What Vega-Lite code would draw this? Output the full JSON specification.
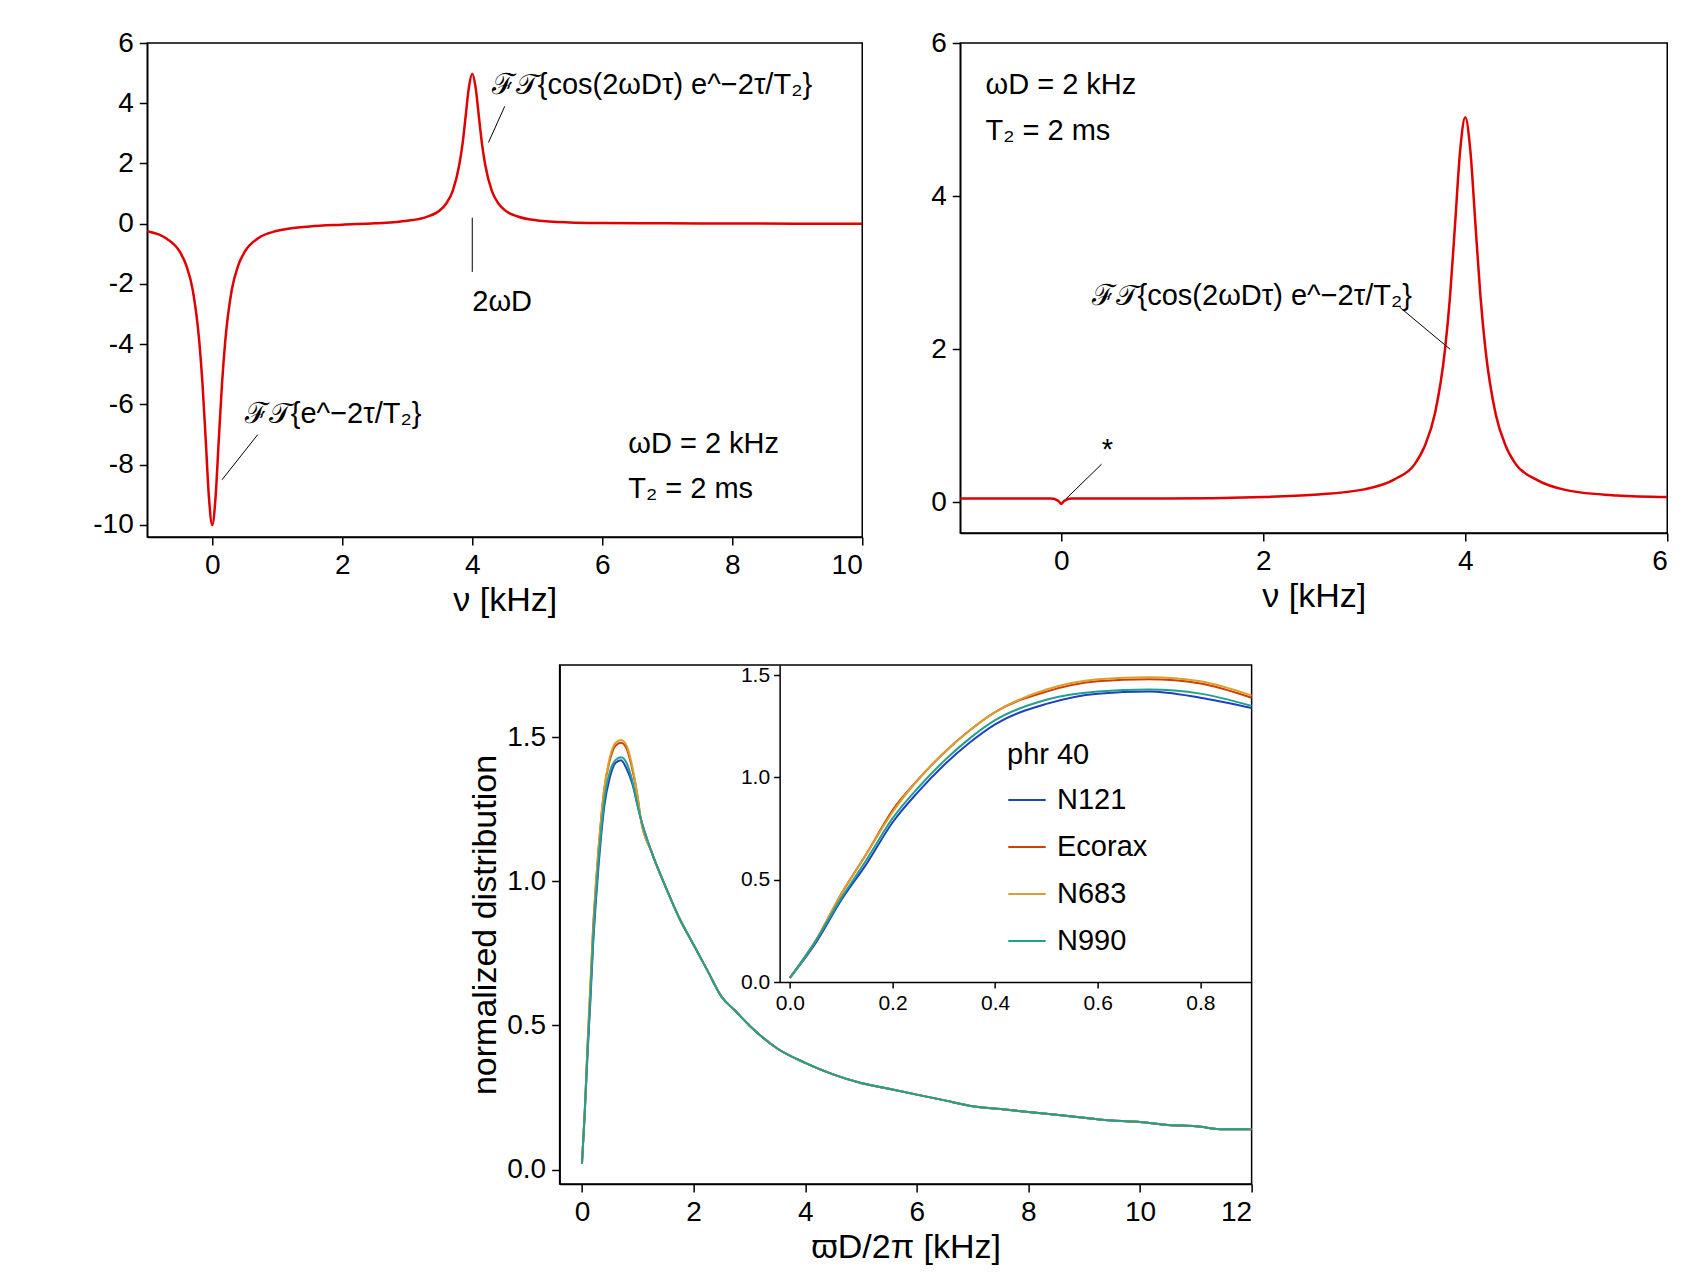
{
"$schema":"https://vega.github.io/schema/vega-lite/v6.json",
"padding":{"left":92,"top":28,"right":5,"bottom":5},
"background":"white",
"config":{"view":{"stroke":"black","strokeWidth":1.5},
"axis":{"grid":false,"labelFont":"Liberation Sans","titleFont":"Liberation Sans","labelFontSize":28,"titleFontSize":34,"titleFontWeight":"normal","labelColor":"black","titleColor":"black","domainColor":"black","tickColor":"black","domainWidth":1.5,"tickWidth":1.5,"tickSize":8,"labelPadding":6,"titlePadding":4,"labelExpr":"replace(datum.label,'−','-')"},
"text":{"font":"Liberation Sans","fontSize":29,"color":"black"},
"legend":{"labelFont":"Liberation Sans","titleFont":"Liberation Sans"}},
"vconcat":[
{"hconcat":[
{"width":715,"height":494,
"layer":[
{"data":{"values":[{"x":-1,"y":-0.25},{"x":-0.7,"y":-0.5},{"x":-0.5,"y":-0.93},{"x":-0.4,"y":-1.38},{"x":-0.3,"y":-2.2},{"x":-0.2,"y":-3.9},{"x":-0.15,"y":-5.32},{"x":-0.1,"y":-7.19},{"x":-0.05,"y":-9.11},{"x":0,"y":-10},{"x":0.05,"y":-9.11},{"x":0.1,"y":-7.19},{"x":0.15,"y":-5.32},{"x":0.2,"y":-3.9},{"x":0.3,"y":-2.2},{"x":0.4,"y":-1.38},{"x":0.5,"y":-0.93},{"x":0.7,"y":-0.49},{"x":1,"y":-0.235},{"x":1.5,"y":-0.09},{"x":2,"y":-0.03},{"x":2.5,"y":0.015},{"x":3,"y":0.097},{"x":3.3,"y":0.23},{"x":3.5,"y":0.44},{"x":3.6,"y":0.67},{"x":3.7,"y":1.09},{"x":3.8,"y":1.95},{"x":3.85,"y":2.64},{"x":3.9,"y":3.6},{"x":3.95,"y":4.55},{"x":4,"y":4.98},{"x":4.05,"y":4.55},{"x":4.1,"y":3.6},{"x":4.15,"y":2.65},{"x":4.2,"y":1.95},{"x":4.3,"y":1.1},{"x":4.4,"y":0.68},{"x":4.5,"y":0.45},{"x":4.7,"y":0.24},{"x":5,"y":0.11},{"x":5.5,"y":0.045},{"x":6,"y":0.025},{"x":7,"y":0.012},{"x":8,"y":0.007},{"x":10,"y":0.0}]},
"mark":{"type":"line","color":"#e00000","strokeWidth":2.5,"interpolate":"monotone","clip":true},
"encoding":{"x":{"field":"x","type":"quantitative","scale":{"domain":[-1,10],"nice":false},"axis":{"values":[0,2,4,6,8,10],"format":"d","title":"ν [kHz]"}},
"y":{"field":"y","type":"quantitative","scale":{"domain":[-10.4,6],"nice":false},"axis":{"values":[-10,-8,-6,-4,-2,0,2,4,6],"format":"d","title":null}}}},
{"data":{"values":[{"x":4.5,"y":3.9,"x2":4.25,"y2":2.7},{"x":4,"y":-1.6,"x2":4,"y2":0.2},{"x":0.7,"y":-7.0,"x2":0.15,"y2":-8.5}]},
"mark":{"type":"rule","color":"black","strokeWidth":1},
"encoding":{"x":{"field":"x","type":"quantitative"},"y":{"field":"y","type":"quantitative"},"x2":{"field":"x2"},"y2":{"field":"y2"}}},
{"data":{"values":[{"x":4.3,"y":4.6,"t":"ℱ𝒯{cos(2ωDτ) e^−2τ/T₂}","a":"left"},{"x":4,"y":-2.6,"t":"2ωD","a":"center"},{"x":0.5,"y":-6.3,"t":"ℱ𝒯{e^−2τ/T₂}","a":"left"},{"x":6.4,"y":-7.3,"t":"ωD  = 2 kHz","a":"left"},{"x":6.4,"y":-8.8,"t":"T₂  = 2 ms","a":"left"}]},
"mark":{"type":"text","align":"left"},
"encoding":{"x":{"field":"x","type":"quantitative"},"y":{"field":"y","type":"quantitative"},"text":{"field":"t"},"align":{"field":"a","type":"nominal","scale":null}}}
]},
{"width":707,"height":490,
"layer":[
{"data":{"values":[{"x":-1,"y":0.05},{"x":-0.1,"y":0.05},{"x":-0.03,"y":0.02},{"x":0,"y":-0.02},{"x":0.03,"y":0.02},{"x":0.1,"y":0.05},{"x":1,"y":0.05},{"x":2,"y":0.07},{"x":2.5,"y":0.1},{"x":3,"y":0.17},{"x":3.3,"y":0.3},{"x":3.5,"y":0.5},{"x":3.6,"y":0.74},{"x":3.7,"y":1.16},{"x":3.8,"y":2.0},{"x":3.85,"y":2.7},{"x":3.9,"y":3.65},{"x":3.95,"y":4.6},{"x":4,"y":5.03},{"x":4.05,"y":4.6},{"x":4.1,"y":3.65},{"x":4.15,"y":2.7},{"x":4.2,"y":2.0},{"x":4.3,"y":1.16},{"x":4.4,"y":0.74},{"x":4.5,"y":0.5},{"x":4.7,"y":0.3},{"x":5,"y":0.16},{"x":5.5,"y":0.09},{"x":6,"y":0.07}]},
"mark":{"type":"line","color":"#e00000","strokeWidth":2.5,"interpolate":"monotone","clip":true},
"encoding":{"x":{"field":"x","type":"quantitative","scale":{"domain":[-1,6],"nice":false},"axis":{"values":[0,2,4,6],"format":"d","title":"ν [kHz]"}},
"y":{"field":"y","type":"quantitative","scale":{"domain":[-0.4,6],"nice":false},"axis":{"values":[0,2,4,6],"format":"d","title":null}}}},
{"data":{"values":[{"x":3.35,"y":2.55,"x2":3.85,"y2":2.0},{"x":0.4,"y":0.5,"x2":0.05,"y2":0.05}]},
"mark":{"type":"rule","color":"black","strokeWidth":1},
"encoding":{"x":{"field":"x","type":"quantitative"},"y":{"field":"y","type":"quantitative"},"x2":{"field":"x2"},"y2":{"field":"y2"}}},
{"data":{"values":[{"x":-0.75,"y":5.45,"t":"ωD  = 2 kHz"},{"x":-0.75,"y":4.85,"t":"T₂  = 2 ms"},{"x":0.3,"y":2.7,"t":"ℱ𝒯{cos(2ωDτ) e^−2τ/T₂}"},{"x":0.4,"y":0.68,"t":"*"}]},
"mark":{"type":"text","align":"left"},
"encoding":{"x":{"field":"x","type":"quantitative"},"y":{"field":"y","type":"quantitative"},"text":{"field":"t"}}}
]}
],"spacing":65},
{"width":692,"height":519,
"data":{"values":[
{"x":0,"N121":0.02,"Ecorax":0.02,"N683":0.02,"N990":0.02},
{"x":0.05,"N121":0.19,"Ecorax":0.2,"N683":0.2,"N990":0.2},
{"x":0.1,"N121":0.4,"Ecorax":0.43,"N683":0.43,"N990":0.41},
{"x":0.15,"N121":0.58,"Ecorax":0.63,"N683":0.63,"N990":0.6},
{"x":0.2,"N121":0.78,"Ecorax":0.84,"N683":0.83,"N990":0.8},
{"x":0.25,"N121":0.93,"Ecorax":0.99,"N683":0.99,"N990":0.95},
{"x":0.3,"N121":1.06,"Ecorax":1.12,"N683":1.12,"N990":1.08},
{"x":0.35,"N121":1.17,"Ecorax":1.23,"N683":1.23,"N990":1.19},
{"x":0.4,"N121":1.26,"Ecorax":1.32,"N683":1.32,"N990":1.28},
{"x":0.5,"N121":1.36,"Ecorax":1.42,"N683":1.43,"N990":1.38},
{"x":0.6,"N121":1.41,"Ecorax":1.47,"N683":1.48,"N990":1.42},
{"x":0.7,"N121":1.42,"Ecorax":1.48,"N683":1.49,"N990":1.43},
{"x":0.8,"N121":1.39,"Ecorax":1.46,"N683":1.47,"N990":1.41},
{"x":0.9,"N121":1.34,"Ecorax":1.39,"N683":1.4,"N990":1.35},
{"x":1.0,"N121":1.26,"Ecorax":1.29,"N683":1.29,"N990":1.26},
{"x":1.05,"N121":1.22,"Ecorax":1.22,"N683":1.22,"N990":1.22},
{"x":1.25,"N121":1.1,"Ecorax":1.1,"N683":1.1,"N990":1.1},
{"x":1.5,"N121":0.98,"Ecorax":0.98,"N683":0.98,"N990":0.98},
{"x":1.75,"N121":0.87,"Ecorax":0.87,"N683":0.87,"N990":0.87},
{"x":2,"N121":0.78,"Ecorax":0.78,"N683":0.78,"N990":0.78},
{"x":2.25,"N121":0.69,"Ecorax":0.69,"N683":0.69,"N990":0.69},
{"x":2.5,"N121":0.6,"Ecorax":0.6,"N683":0.6,"N990":0.6},
{"x":2.75,"N121":0.55,"Ecorax":0.55,"N683":0.55,"N990":0.55},
{"x":3,"N121":0.5,"Ecorax":0.5,"N683":0.5,"N990":0.5},
{"x":3.5,"N121":0.42,"Ecorax":0.42,"N683":0.42,"N990":0.42},
{"x":4,"N121":0.37,"Ecorax":0.37,"N683":0.37,"N990":0.37},
{"x":4.5,"N121":0.33,"Ecorax":0.33,"N683":0.33,"N990":0.33},
{"x":5,"N121":0.3,"Ecorax":0.3,"N683":0.3,"N990":0.3},
{"x":5.5,"N121":0.28,"Ecorax":0.28,"N683":0.28,"N990":0.28},
{"x":6,"N121":0.26,"Ecorax":0.26,"N683":0.26,"N990":0.26},
{"x":6.5,"N121":0.24,"Ecorax":0.24,"N683":0.24,"N990":0.24},
{"x":7,"N121":0.22,"Ecorax":0.22,"N683":0.22,"N990":0.22},
{"x":7.5,"N121":0.21,"Ecorax":0.21,"N683":0.21,"N990":0.21},
{"x":8,"N121":0.2,"Ecorax":0.2,"N683":0.2,"N990":0.2},
{"x":8.5,"N121":0.19,"Ecorax":0.19,"N683":0.19,"N990":0.19},
{"x":9,"N121":0.18,"Ecorax":0.18,"N683":0.18,"N990":0.18},
{"x":9.5,"N121":0.17,"Ecorax":0.17,"N683":0.17,"N990":0.17},
{"x":10,"N121":0.165,"Ecorax":0.165,"N683":0.165,"N990":0.165},
{"x":10.5,"N121":0.155,"Ecorax":0.155,"N683":0.155,"N990":0.155},
{"x":11,"N121":0.15,"Ecorax":0.15,"N683":0.15,"N990":0.15},
{"x":11.5,"N121":0.14,"Ecorax":0.14,"N683":0.14,"N990":0.14},
{"x":12,"N121":0.14,"Ecorax":0.14,"N683":0.14,"N990":0.14}
]},
"transform":[{"fold":["N121","Ecorax","N683","N990"],"as":["series","v"]}],
"layer":[
{"mark":{"type":"line","strokeWidth":2,"interpolate":"monotone","clip":true},
"encoding":{"x":{"field":"x","type":"quantitative","scale":{"domain":[-0.4,12],"nice":false},"axis":{"values":[0,2,4,6,8,10,12],"format":"d","title":"ϖD/2π [kHz]"}},
"y":{"field":"v","type":"quantitative","scale":{"domain":[-0.05,1.75],"nice":false},"axis":{"values":[0,0.5,1,1.5],"format":".1f","title":"normalized distribution"}},
"color":{"field":"series","type":"nominal","scale":{"domain":["N121","Ecorax","N683","N990"],"range":["#2040c0","#d04000","#d8a030","#20a090"]},
"legend":{"orient":"none","legendX":860,"legendY":698,"title":"phr 40","titleFontSize":29,"titleFontWeight":"normal","labelFontSize":29,"symbolType":"stroke","symbolSize":1400,"symbolStrokeWidth":2,"rowPadding":12,"titlePadding":10,"labelOffset":10}},
"detail":{"field":"series"}}},
{"transform":[{"filter":"datum.x <= 0.9"}],
"mark":{"type":"line","strokeWidth":2,"interpolate":"monotone","clip":false},
"encoding":{"x":{"field":"x","type":"quantitative","scale":{"domain":[-0.02,0.9],"nice":false,"range":[220,692]},"axis":{"orient":"bottom","values":[0,0.2,0.4,0.6,0.8],"format":".1f","title":null,"offset":-202,"labelFontSize":21,"labelPadding":4,"tickSize":6}},
"y":{"field":"v","type":"quantitative","scale":{"domain":[0,1.55],"nice":false,"range":[317,0]},"axis":{"orient":"left","values":[0,0.5,1,1.5],"format":".1f","title":null,"offset":-220,"labelFontSize":21,"labelPadding":4,"tickSize":6}},
"color":{"field":"series","type":"nominal"},
"detail":{"field":"series"}}}
],
"resolve":{"scale":{"x":"independent","y":"independent"},"axis":{"x":"independent","y":"independent"}}}
],"spacing":45,"center":true}
